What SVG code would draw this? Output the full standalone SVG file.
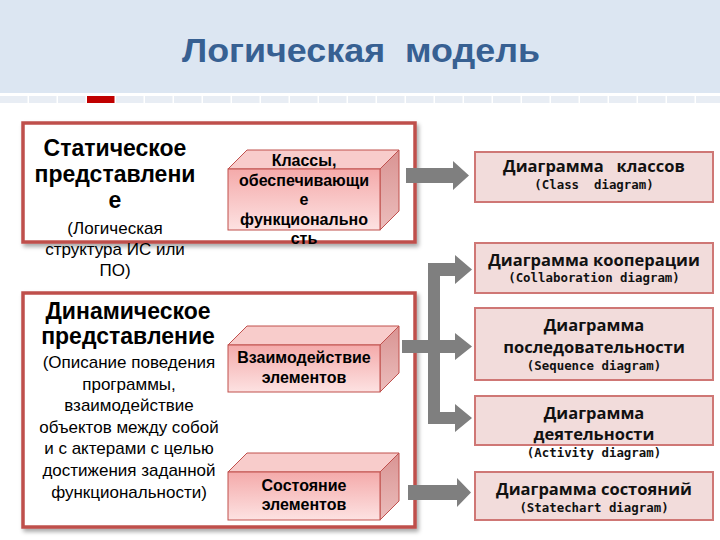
<svg xmlns="http://www.w3.org/2000/svg" width="720" height="540" viewBox="0 0 720 540">
<defs>
<style>
.hd{font-family:"Liberation Sans",Arial,sans-serif;font-weight:bold;font-size:23px;fill:#000;text-anchor:middle}
.sub{font-family:"Liberation Sans",Arial,sans-serif;font-size:17px;fill:#000;text-anchor:middle}
.bx{font-family:"Liberation Sans",Arial,sans-serif;font-weight:bold;font-size:16px;fill:#000;text-anchor:middle}
.rt{font-family:"Open Sans","DejaVu Sans",sans-serif;font-weight:bold;font-size:16.5px;fill:#111;text-anchor:middle;white-space:pre}
.mn{font-family:"DejaVu Sans Mono","Liberation Mono",monospace;font-weight:bold;font-size:12.4px;fill:#111;text-anchor:middle;white-space:pre}
.outer{fill:#fff;stroke:#bf4f4c;stroke-width:3.5}
.rbox{fill:#f2dcdb;stroke:#cf7775;stroke-width:2}
.front{fill:url(#gf);stroke:#c0504d;stroke-width:1}
.top{fill:#f8cccb;stroke:#c0504d;stroke-width:1}
.side{fill:url(#gs);stroke:#c0504d;stroke-width:1}
.arr{fill:#7f7f7f}
.cell{fill:#e8edf4}
</style>
<linearGradient id="gf" x1="0" y1="0" x2="0" y2="1">
<stop offset="0" stop-color="#f4aaaa"/>
<stop offset="1" stop-color="#fde2e2"/>
</linearGradient>
<linearGradient id="gs" x1="0" y1="0" x2="0" y2="1">
<stop offset="0" stop-color="#d99493"/>
<stop offset="1" stop-color="#ecbdbc"/>
</linearGradient>
<filter id="sh" x="-5%" y="-5%" width="112%" height="115%">
<feDropShadow dx="2" dy="3" stdDeviation="2" flood-color="#000" flood-opacity="0.35"/>
</filter>
</defs>
<rect width="720" height="540" fill="#fff"/>
<g id="header">
<rect x="0" y="0" width="720" height="93" fill="#dce6f2"/>
<rect class="cell" x="0" y="96" width="27.5" height="7"/>
<rect class="cell" x="29" y="96" width="27.5" height="7"/>
<rect class="cell" x="58" y="96" width="27.5" height="7"/>
<rect x="87" y="96" width="27.5" height="7" fill="#c00000"/>
<rect class="cell" x="116" y="96" width="27.5" height="7"/>
<rect class="cell" x="145" y="96" width="27.5" height="7"/>
<rect class="cell" x="174" y="96" width="27.5" height="7"/>
<rect class="cell" x="203" y="96" width="27.5" height="7"/>
<rect class="cell" x="232" y="96" width="27.5" height="7"/>
<rect class="cell" x="261" y="96" width="27.5" height="7"/>
<rect class="cell" x="290" y="96" width="27.5" height="7"/>
<rect class="cell" x="319" y="96" width="27.5" height="7"/>
<rect class="cell" x="348" y="96" width="27.5" height="7"/>
<rect class="cell" x="377" y="96" width="27.5" height="7"/>
<rect class="cell" x="406" y="96" width="27.5" height="7"/>
<rect class="cell" x="435" y="96" width="27.5" height="7"/>
<rect class="cell" x="464" y="96" width="27.5" height="7"/>
<rect class="cell" x="493" y="96" width="27.5" height="7"/>
<rect class="cell" x="522" y="96" width="27.5" height="7"/>
<rect class="cell" x="551" y="96" width="27.5" height="7"/>
<rect class="cell" x="580" y="96" width="27.5" height="7"/>
<rect class="cell" x="609" y="96" width="27.5" height="7"/>
<rect class="cell" x="638" y="96" width="27.5" height="7"/>
<rect class="cell" x="667" y="96" width="27.5" height="7"/>
<rect class="cell" x="696" y="96" width="24" height="7"/>
<text x="361" y="62" font-family="'Liberation Sans',Arial,sans-serif" font-weight="bold" font-size="34" fill="#376092" text-anchor="middle" textLength="358" lengthAdjust="spacingAndGlyphs" style="white-space:pre">Логическая  модель</text>
</g>

<g id="static">
<rect class="outer" x="23" y="123" width="392" height="119" filter="url(#sh)"/>
<text class="hd" x="115" y="156">Статическое</text>
<text class="hd" x="115" y="182">представлени</text>
<text class="hd" x="115" y="208">е</text>
<text class="sub" x="115" y="234">(Логическая</text>
<text class="sub" x="115" y="255">структура ИС или</text>
<text class="sub" x="115" y="276">ПО)</text>
</g>

<g id="classes-box">
<polygon class="top" points="228,169 247,150 399,150 380,169"/>
<polygon class="side" points="380,169 399,150 399,211 380,230"/>
<rect class="front" x="228" y="169" width="152" height="61"/>
<text class="bx" x="304" y="166">Классы,</text>
<text class="bx" x="304" y="185.5">обеспечивающи</text>
<text class="bx" x="304" y="205">е</text>
<text class="bx" x="304" y="224.5">функционально</text>
<text class="bx" x="304" y="244">сть</text>
</g>

<g id="dynamic">
<rect class="outer" x="23" y="293" width="392" height="234" filter="url(#sh)"/>
<text class="hd" x="128" y="319">Динамическое</text>
<text class="hd" x="128" y="344">представление</text>
<text class="sub" x="129" y="368">(Описание поведения</text>
<text class="sub" x="129" y="389.6">программы,</text>
<text class="sub" x="129" y="411.2">взаимодействие</text>
<text class="sub" x="129" y="432.8">объектов между собой</text>
<text class="sub" x="129" y="454.4">и с актерами с целью</text>
<text class="sub" x="129" y="476">достижения заданной</text>
<text class="sub" x="129" y="497.6">функциональности)</text>
</g>

<g id="interaction-box">
<polygon class="top" points="228,345 247,326 399,326 380,345"/>
<polygon class="side" points="380,345 399,326 399,373 380,392"/>
<rect class="front" x="228" y="345" width="152" height="47"/>
<text class="bx" x="304" y="363">Взаимодействие</text>
<text class="bx" x="304" y="383">элементов</text>
</g>

<g id="state-box">
<polygon class="top" points="228,472 247,453 399,453 380,472"/>
<polygon class="side" points="380,472 399,453 399,501 380,520"/>
<rect class="front" x="228" y="472" width="152" height="48"/>
<text class="bx" x="304" y="491">Состояние</text>
<text class="bx" x="304" y="510">элементов</text>
</g>

<g id="connectors">
<polygon class="arr" points="406,168 453,168 453,161 469,175.5 453,190 453,183 406,183"/>
<polygon class="arr" points="428,263 455,263 455,255 472,269.5 455,284 455,276 440,276 440,412 455,412 455,404 472,418 455,432 455,424 428,424"/>
<polygon class="arr" points="402,340 455,340 455,333 472,346.5 455,360 455,353 402,353"/>
<polygon class="arr" points="408,485 457,485 457,478 471,492.5 457,507 457,500 408,500"/>
</g>

<g id="class-diagram">
<rect class="rbox" x="475" y="152" width="238" height="50"/>
<text class="rt" x="594" y="172">Диаграмма   классов</text>
<text class="mn" x="594" y="189">(Class  diagram)</text>
</g>

<g id="collaboration-diagram">
<rect class="rbox" x="475" y="243" width="238" height="50"/>
<text class="rt" x="594" y="266">Диаграмма кооперации</text>
<text class="mn" x="594" y="282">(Collaboration diagram)</text>
</g>

<g id="sequence-diagram">
<rect class="rbox" x="475" y="308" width="238" height="72"/>
<text class="rt" x="594" y="331">Диаграмма</text>
<text class="rt" x="594" y="353">последовательности</text>
<text class="mn" x="594" y="370">(Sequence diagram)</text>
</g>

<g id="activity-diagram">
<rect class="rbox" x="475" y="396" width="238" height="49"/>
<text class="rt" x="594" y="419">Диаграмма</text>
<text class="rt" x="594" y="440">деятельности</text>
<text class="mn" x="594" y="457">(Activity diagram)</text>
</g>

<g id="statechart-diagram">
<rect class="rbox" x="475" y="472" width="238" height="48"/>
<text class="rt" x="594" y="495">Диаграмма состояний</text>
<text class="mn" x="594" y="512">(Statechart diagram)</text>
</g>
</svg>
